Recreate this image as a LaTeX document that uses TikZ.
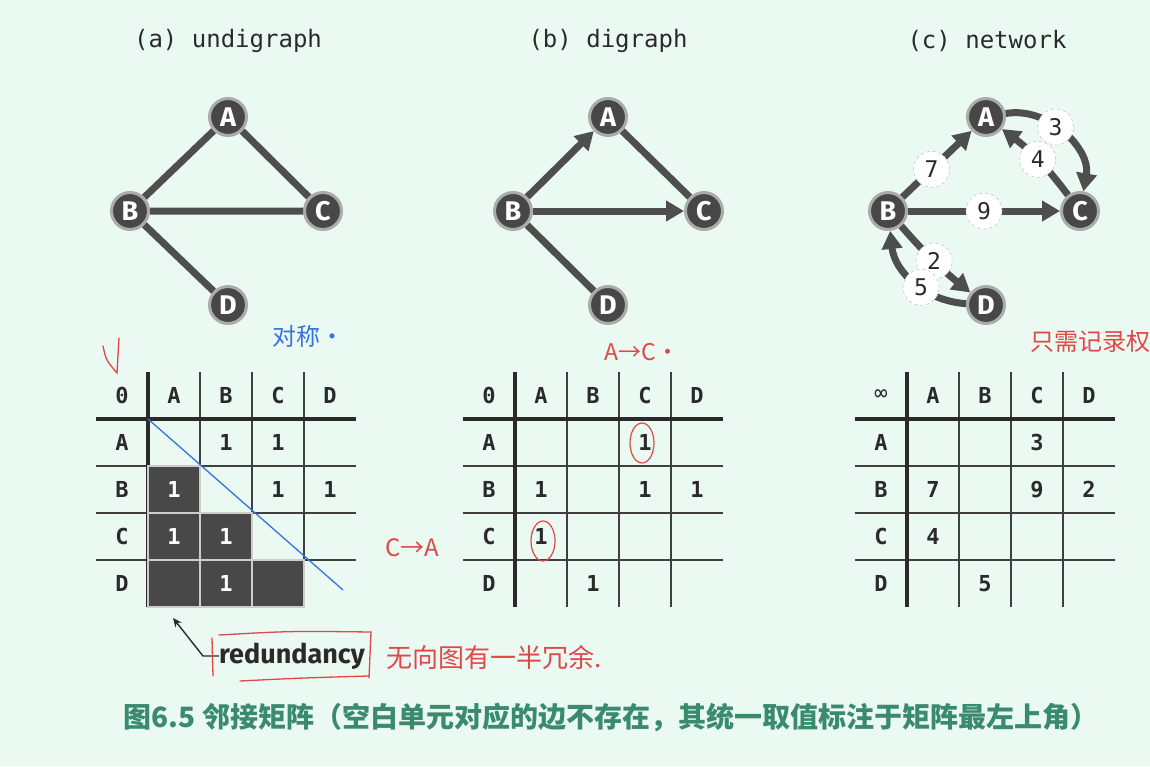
\documentclass[tikz,border=0pt]{standalone}
\usepackage{fontspec}
\usepackage{tikz}
\usetikzlibrary{arrows.meta,positioning,calc}
\newfontfamily\monofont{DejaVu Sans Mono}
\newfontfamily\letterfont{Fira Sans}
\newfontfamily\cjkfont{Noto Sans CJK SC}
\definecolor{paper}   {HTML}{EAF9F2}
\definecolor{vertex}  {HTML}{474747}
\definecolor{rim}     {HTML}{ABABAB}
\definecolor{edgegray}{HTML}{4E4E4E}
\definecolor{gridink} {HTML}{2A2A2A}
\definecolor{cellgray}{HTML}{484848}
\definecolor{caption} {HTML}{3A8A6E}
\definecolor{pen}     {HTML}{E04848}
\definecolor{bluepen} {HTML}{3573E0}

\begin{document}
\begin{tikzpicture}[x=1pt,y=1pt,
  vtx/.style={circle, fill=vertex, draw=rim, line width=3pt, minimum size=37pt,
              inner sep=0pt, text=white, font=\letterfont\bfseries\fontsize{27}{27}\selectfont},
  wt/.style={circle, fill=white, draw=rim!70, dashed, line width=0.6pt, minimum size=36pt,
             inner sep=0pt, text=gridink, font=\monofont\fontsize{23}{23}\selectfont},
  link/.style={draw=edgegray, line width=7pt},
  arc/.style={link, -{Triangle[length=18pt,width=20pt]}},
  title/.style={text=gridink, font=\monofont\fontsize{24}{24}\selectfont},
  cell/.style={text=gridink, font=\monofont\bfseries\fontsize{22}{22}\selectfont},
  thickrule/.style={draw=gridink, line width=4pt},
  thinrule/.style={draw=gridink!90, line width=1.6pt},
  hand/.style={text=pen, font=\cjkfont\fontsize{24}{24}\selectfont, inner sep=0pt}]
 \fill[paper] (0,0) rectangle (1150,-766);
 \useasboundingbox (0,0) rectangle (1150,-766);

 % titles
 \node[title] (ttla) at (228,-41) {(a) undigraph};
 \node[title] (ttlb) at (608,-41) {(b) digraph};
 \node[title] (ttlc) at (987,-41) {(c) network};

 % (a) undigraph
 \node[vtx] (aA) at (228,-117) {A};
 \node[vtx] (aB) at (130,-211) {B};
 \node[vtx] (aC) at (323,-211) {C};
 \node[vtx] (aD) at (228,-305) {D};
 \draw[link] (aA) -- (aB) (aA) -- (aC) (aB) -- (aC) (aB) -- (aD);

 % (b) digraph
 \node[vtx] (bA) at (608,-117) {A};
 \node[vtx] (bB) at (513,-211) {B};
 \node[vtx] (bC) at (704,-211) {C};
 \node[vtx] (bD) at (608,-305) {D};
 \draw[arc]  (bB) -- (bA);
 \draw[link] (bA) -- (bC);
 \draw[arc]  (bB) -- (bC);
 \draw[link] (bB) -- (bD);

 % (c) network
 \node[vtx] (cA) at (986,-117) {A};
 \node[vtx] (cB) at (888,-211) {B};
 \node[vtx] (cC) at (1080,-211) {C};
 \node[vtx] (cD) at (986,-305) {D};
 \draw[arc] (cB) -- node[wt,pos=.42] (w7) {7} (cA);
 \draw[arc] (cA) to[bend left=55] node[wt,pos=.42] (w3) {3} (cC);
 \draw[arc] (cC) to[bend right=8] node[wt] (w4) {4} (cA);
 \draw[arc] (cB) -- node[wt] (w9) {9} (cC);
 \draw[arc] (cB) to[bend right=5] node[wt] (w2) {2} (cD);
 \draw[arc] (cD) to[bend left=40] node[wt,pos=.42] (w5) {5} (cB);

 % matrices: grid and headers
 \foreach \t/\xo/\corner in {a/148/0, b/515/0, c/907/{\monofont\mdseries ∞}} {
  \begin{scope}[shift={(\xo,0)}]
   \foreach \y in {466,513,560} \draw[thinrule] (-52,-\y) -- (208,-\y);
   \foreach \x in {52,104,156} \draw[thinrule] (\x,-372) -- (\x,-607);
   \draw[thickrule] (-52,-419) -- (208,-419);
   \draw[thickrule] (0,-372) -- (0,-607);
   \node[cell] (\t-h0) at (-26,-395.5) {\corner};
   \foreach \l [count=\j] in {A,B,C,D} {
    \node[cell] (\t-h\j) at ({52*\j-26},-395.5) {\l};
    \node[cell] (\t-r\j) at (-26,{-395.5-47*\j}) {\l};
   }
  \end{scope}
 }
 % (a) lower half is redundant
 \foreach \c/\r in {1/2,1/3,2/3,1/4,2/4,3/4}
  \fill[cellgray, draw=rim!60, line width=1.5pt]
   ({148+52*(\c-1)},{-419-47*(\r-1)}) rectangle ++(52,-47);
 \foreach \c/\r/\v/\ink in {2/1/1/gridink, 3/1/1/gridink, 1/2/1/white, 3/2/1/gridink,
                           4/2/1/gridink, 1/3/1/white, 2/3/1/white, 2/4/1/white}
  \node[cell, text=\ink] (a-\c\r) at ({148+52*\c-26},{-395.5-47*\r}) {\v};
 \foreach \c/\r/\v in {3/1/1, 1/2/1, 3/2/1, 4/2/1, 1/3/1, 2/4/1}
  \node[cell] (b-\c\r) at ({515+52*\c-26},{-395.5-47*\r}) {\v};
 \foreach \c/\r/\v in {3/1/3, 1/2/7, 3/2/9, 4/2/2, 1/3/4, 2/4/5}
  \node[cell] (c-\c\r) at ({907+52*\c-26},{-395.5-47*\r}) {\v};

 % redundancy label
 \node[text=gridink, font=\letterfont\bfseries\fontsize{27}{27}\selectfont, inner sep=0pt]
  (redund) at (292,-656) {redundancy};
 \coordinate (redtip) at (173,-618);
 \draw[gridink, line width=1.4pt, -{Stealth[length=9pt,width=8pt]}]
  (redund.west) -- ++(-16,0) -- (redtip);

 % caption
 \node[text=caption, font=\cjkfont\bfseries\fontsize{28}{28}\selectfont]
  (capt) at (611,-717) {图6.5 邻接矩阵（空白单元对应的边不存在，其统一取值标注于矩阵最左上角）};

 % hand notes
 \draw[bluepen, line width=1.3pt] (148,-419) -- (343,-590);
 \node[hand, text=bluepen, font=\cjkfont\fontsize{24}{24}\selectfont] (nsym) at (308,-336) {对称·};
 \draw[pen, line width=1.3pt, line cap=round]
  (103,-346) .. controls (106,-360) .. (117,-373) -- (119,-338);
 \node[hand] (nca) at (412,-548) {C→A};
 \node[hand, font=\cjkfont\fontsize{23}{23}\selectfont] (nac) at (642,-352) {A→C·};
 \draw[pen, line width=1.2pt] (642,-443) ellipse (12 and 20);
 \draw[pen, line width=1.2pt] (543,-541) ellipse (12 and 20);
 \begin{scope}
  \clip (0,0) rectangle (1150,-766);
  \node[hand, anchor=west] (nwt) at (1030,-341) {只需记录权};
 \end{scope}
 \draw[pen, line width=1.3pt, line cap=round]
  (212,-638) -- (213,-676) (219,-635) .. controls (290,-631) .. (371,-632)
  -- (369,-678) (240,-681) .. controls (300,-678) .. (368,-676);
 \node[hand, font=\cjkfont\fontsize{26}{26}\selectfont, anchor=west] (nund) at (386,-657) {无向图有一半冗余.};
\end{tikzpicture}
\end{document}
